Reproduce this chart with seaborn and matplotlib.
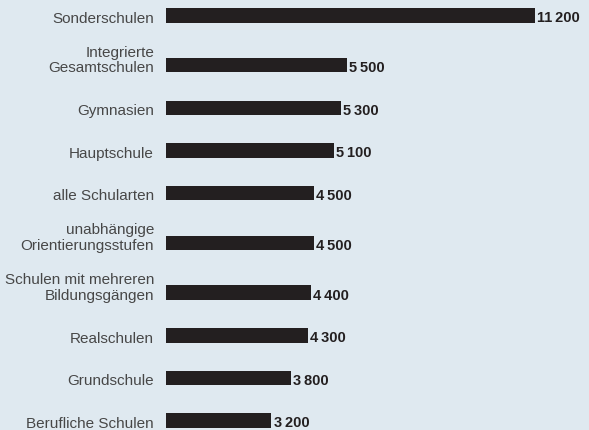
import matplotlib
matplotlib.use("Agg")
import matplotlib.pyplot as plt
import pandas as pd
import seaborn as sns

# Durchschnittliche Ausgaben je Schüler nach Schulart (Euro)
categories = [
    "Sonderschulen",
    "Integrierte\nGesamtschulen",
    "Gymnasien",
    "Hauptschule",
    "alle Schularten",
    "unabhängige\nOrientierungsstufen",
    "Schulen mit mehreren\nBildungsgängen",
    "Realschulen",
    "Grundschule",
    "Berufliche Schulen",
]
values = [11200, 5500, 5300, 5100, 4500, 4500, 4400, 4300, 3800, 3200]

BG = "#dfe9f0"
BAR = "#231f20"
LABEL = "#474747"

sns.set_theme(style="white")
plt.rcParams["font.family"] = ["Liberation Sans", "DejaVu Sans"]

# rows with a two-line label get a little extra room above them
row_pos = []
y = 0.0
for i, cat in enumerate(categories):
    if i > 0:
        y += 1.0 + 0.17 * cat.count("\n")
    row_pos.append(y)

df = pd.DataFrame({"Schulart": categories, "Euro": values, "pos": row_pos})

fig = plt.figure(figsize=(5.89, 4.30), dpi=100, facecolor=BG)
ax = fig.add_axes([166 / 589, 0, 423 / 589, 1])
ax.set_facecolor(BG)

sns.barplot(data=df, x="Euro", y="pos", orient="y", native_scale=True,
            color=BAR, saturation=1, width=0.34, linewidth=0, ax=ax)

ax.set_xlim(0, 12838)
ax.set_ylim(row_pos[-1] + 0.223, -0.359)
ax.set_axis_off()


def fmt(v):
    return f"{v:,}".replace(",", "\u2009")


for cat, v, p in zip(df["Schulart"], df["Euro"], df["pos"]):
    ax.annotate(cat, xy=(0, p), xycoords=("axes fraction", "data"),
                xytext=(-8.6, -7.4), textcoords="offset points",
                ha="right", va="bottom", multialignment="right",
                fontsize=11, color=LABEL, linespacing=1.15,
                annotation_clip=False)
    ax.annotate(fmt(v), xy=(v, p), xycoords="data",
                xytext=(1.5, -5.0), textcoords="offset points",
                ha="left", va="baseline", fontsize=10.5,
                fontweight="bold", color=BAR, annotation_clip=False)

fig.savefig("out.png", dpi=100, facecolor=BG)
